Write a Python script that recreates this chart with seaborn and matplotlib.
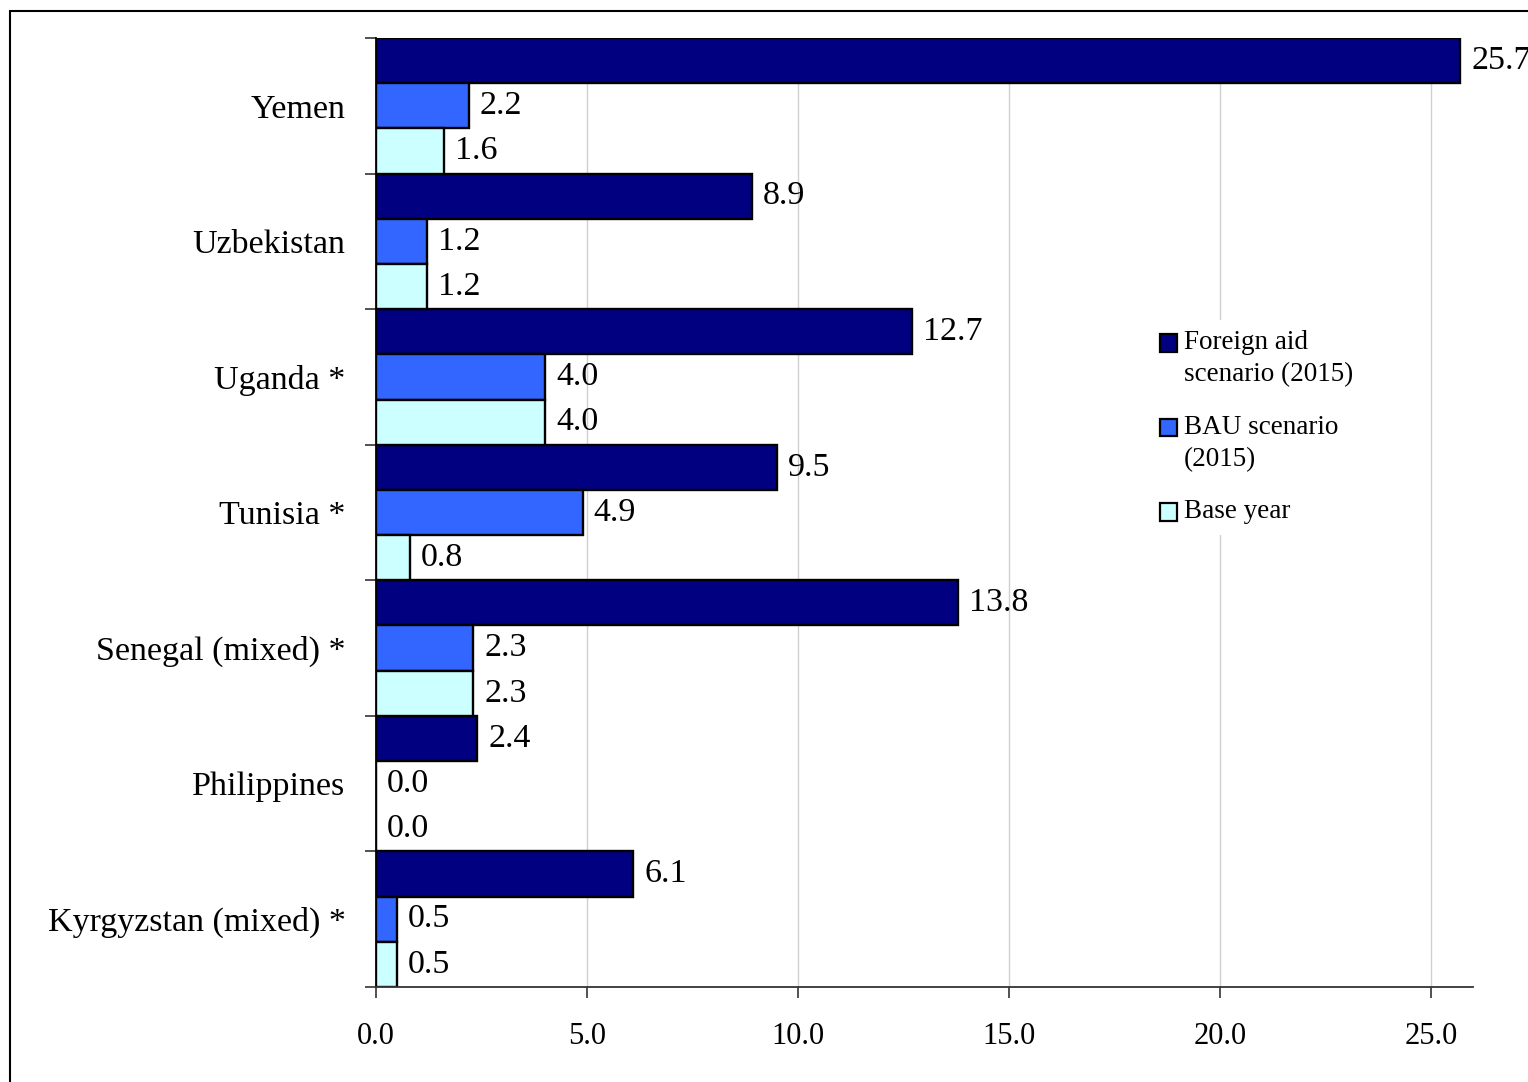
import matplotlib
matplotlib.use("Agg")
import matplotlib.pyplot as plt
import matplotlib.patches as mpatches
import seaborn as sns
import pandas as pd
import numpy as np

countries = ["Yemen", "Uzbekistan", "Uganda *", "Tunisia *",
             "Senegal (mixed) *", "Philippines", "Kyrgyzstan (mixed) *"]
series = ["Foreign aid\nscenario (2015)", "BAU scenario\n(2015)", "Base year"]
foreign_aid = [25.7, 8.9, 12.7, 9.5, 13.8, 2.4, 6.1]
bau = [2.2, 1.2, 4.0, 4.9, 2.3, 0.0, 0.5]
base_year = [1.6, 1.2, 4.0, 0.8, 2.3, 0.0, 0.5]
colors = ["#000080", "#3366FF", "#CCFFFF"]
x_ticks = [0, 5, 10, 15, 20, 25]

df = pd.DataFrame({
    "country": countries * 3,
    "series": np.repeat(series, len(countries)),
    "value": foreign_aid + bau + base_year,
})

sns.set_theme(style="white")
plt.rcParams["font.family"] = ["Liberation Serif", "DejaVu Serif"]
plt.rcParams["text.color"] = "black"
plt.rcParams["xtick.color"] = "black"
plt.rcParams["ytick.color"] = "black"
plt.rcParams["axes.labelcolor"] = "black"

W, H = 1528, 1082
fig = plt.figure(figsize=(W / 100, H / 100), dpi=100)
ax = fig.add_axes([376 / W, 1 - 987 / H, (1473 - 376) / W, (987 - 38) / H])

sns.barplot(data=df, x="value", y="country", hue="series", order=countries,
            hue_order=series, palette=colors, orient="h", width=1.0,
            edgecolor="black", linewidth=1.7, saturation=1, ax=ax, legend=False)

ax.set_xlim(0, 26.0)
ax.set_ylim(len(countries) - 0.5, -0.5)
ax.set_xlabel("")
ax.set_ylabel("")

# value labels
for cont in ax.containers:
    ax.bar_label(cont, fmt="%.1f", padding=8, fontsize=24.5, color="black")

# vertical grid
ax.set_xticks(x_ticks)
ax.set_xticklabels([f"{v:.1f}" for v in x_ticks], fontsize=22)
ax.xaxis.grid(True, color="#d0d0d0", linewidth=1.0)
ax.set_axisbelow(True)
ax.tick_params(axis="x", direction="out", length=8, width=1.2, color="#333333",
               pad=17, bottom=True)

# category labels at centres, tick marks at group boundaries
ax.set_yticks(range(len(countries)))
ax.set_yticklabels(countries, fontsize=24.5)
ax.tick_params(axis="y", which="major", length=0, pad=22)
ax.set_yticks(np.arange(-0.5, len(countries)), minor=True)
ax.tick_params(axis="y", which="minor", direction="out", length=8, width=1.2,
               color="#333333", left=True)

for s in ["top", "right"]:
    ax.spines[s].set_visible(False)
ax.spines["left"].set_color("black")
ax.spines["left"].set_linewidth(1.3)
ax.spines["bottom"].set_color("#333333")
ax.spines["bottom"].set_linewidth(1.3)

# legend
handles = [mpatches.Patch(facecolor=c, edgecolor="black", linewidth=1.6) for c in colors]
leg = ax.legend(handles, series, loc="upper left",
                bbox_to_anchor=(1136 / W, 1 - 306 / H), bbox_transform=fig.transFigure,
                fontsize=19.5, frameon=True, fancybox=False, framealpha=1,
                edgecolor="none", facecolor="white", handlelength=0.62,
                handleheight=0.62, handletextpad=0.25, labelspacing=1.0,
                borderpad=0.4)
for t in leg.get_texts():
    t.set_linespacing(1.38)

# outer frame
fig.patches.append(mpatches.Rectangle((10 / W, -0.01), 1.05, 1 - 11 / H + 0.01,
                                      transform=fig.transFigure, fill=False,
                                      edgecolor="black", linewidth=1.5))

# place each legend swatch beside the first line of its label
fig.canvas.draw()
renderer = fig.canvas.get_renderer()
for patch, text in zip(leg.get_patches(), leg.get_texts()):
    tb = text.get_window_extent(renderer)
    pb = patch.get_window_extent(renderer)
    target_top = tb.y1 - 4
    delta_px = target_top - pb.y1
    patch.set_y(patch.get_y() + delta_px * 72 / fig.dpi)

fig.savefig("out.png", dpi=100)
